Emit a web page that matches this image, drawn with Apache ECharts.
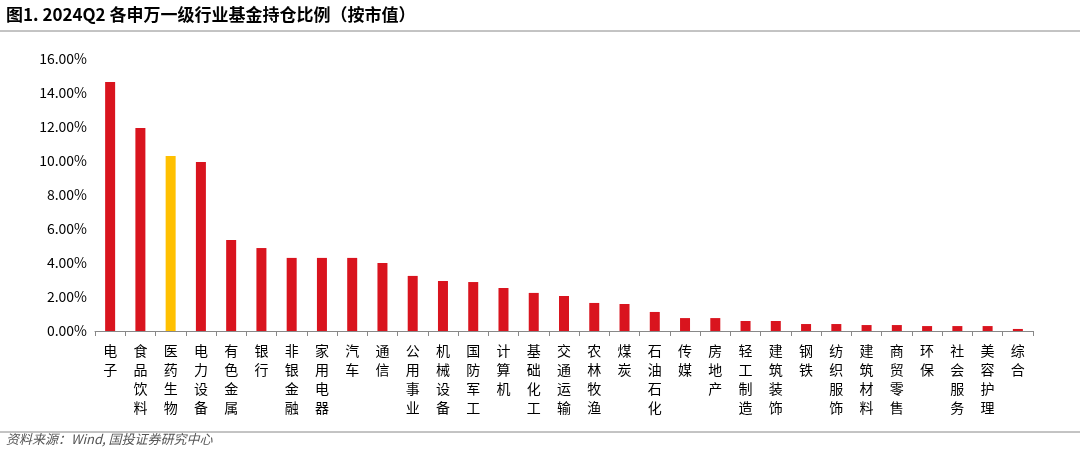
<!DOCTYPE html>
<html><head><meta charset="utf-8">
<script src="https://cdn.jsdelivr.net/npm/echarts@6/dist/echarts.min.js"></script>
<style>html,body{margin:0;padding:0;background:#fff}#c{width:1080px;height:455px}</style>
</head><body><div id="c"></div>
<script>
const categories=['电子','食品饮料','医药生物','电力设备','有色金属','银行','非银金融','家用电器','汽车','通信','公用事业','机械设备','国防军工','计算机','基础化工','交通运输','农林牧渔','煤炭','石油石化','传媒','房地产','轻工制造','建筑装饰','钢铁','纺织服饰','建筑材料','商贸零售','环保','社会服务','美容护理','综合'];
const values=[14.65,11.94,10.3,9.94,5.35,4.88,4.3,4.3,4.3,4.0,3.24,2.94,2.88,2.53,2.24,2.06,1.65,1.59,1.12,0.76,0.76,0.59,0.59,0.41,0.41,0.35,0.35,0.29,0.29,0.29,0.12];
const highlight='医药生物';
const chart=echarts.init(document.getElementById('c'));
const font='"Noto Sans CJK SC", sans-serif';
chart.setOption({
  animation:false,
  graphic:[
    {type:'text',left:6,top:6,style:{text:'图1. 2024Q2 各申万一级行业基金持仓比例（按市值）',font:'bold 17px '+font,fill:'#000'}},
    {type:'line',shape:{x1:0,y1:31,x2:1080,y2:31},style:{stroke:'#888',lineWidth:1}},
    {type:'line',shape:{x1:0,y1:432,x2:1080,y2:432},style:{stroke:'#888',lineWidth:1}},
    {type:'text',left:6,top:433,style:{text:'资料来源：Wind, 国投证券研究中心',font:'italic 13px '+font,fill:'#555'}}
  ],
  grid:{left:95,right:47,top:59,bottom:124},
  xAxis:{type:'category',data:categories,
    axisLine:{lineStyle:{color:'#888'}},axisTick:{show:true,alignWithLabel:false,lineStyle:{color:'#888'}},
    axisLabel:{interval:0,fontFamily:font,fontSize:14,color:'#000',lineHeight:19,margin:10,
      formatter:v=>v.split('').join('\n')}},
  yAxis:{type:'value',min:0,max:16,interval:2,
    axisLine:{show:false},axisTick:{show:false},splitLine:{show:false},
    axisLabel:{fontFamily:font,fontSize:14,color:'#000',formatter:v=>v.toFixed(2)+'%'}},
  series:[{type:'bar',barWidth:10,
    data:values.map((v,i)=>({value:v,itemStyle:{color:categories[i]===highlight?'#FFC000':'#D9141E'}}))}]
});
</script></body></html>
